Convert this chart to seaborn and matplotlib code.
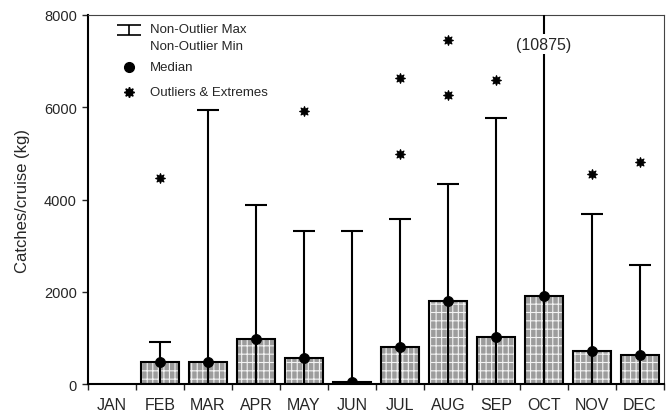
import numpy as np
import pandas as pd
import matplotlib
matplotlib.use("Agg")
import matplotlib.pyplot as plt
from matplotlib.path import Path
import seaborn as sns

# Monthly catch statistics per cruise (kg)
months = ["JAN", "FEB", "MAR", "APR", "MAY", "JUN",
          "JUL", "AUG", "SEP", "OCT", "NOV", "DEC"]
medians = [np.nan, 470, 470, 980, 560, 50, 810, 1800, 1010, 1900, 720, 630]
nonoutlier_max = [np.nan, 920, 5950, 3880, 3320, 3310, 3580, 4330, 5760, 10875, 3680, 2580]
nonoutlier_min = [np.nan, 0, 0, 0, 0, 0, 0, 0, 0, 0, 0, 0]
outlier_month = ["FEB", "MAY", "JUL", "JUL", "AUG", "AUG", "SEP", "NOV", "DEC"]
outlier_value = [4470, 5920, 6630, 4980, 7460, 6270, 6580, 4550, 4820]

ymax = 8000

sns.set_style("ticks")
plt.rcParams["font.family"] = ["Liberation Sans", "DejaVu Sans"]
plt.rcParams["hatch.linewidth"] = 0.8

df = pd.DataFrame({"month": months, "median": medians,
                   "max": nonoutlier_max, "min": nonoutlier_min})
out_df = pd.DataFrame({"month": outlier_month, "value": outlier_value})

fig = plt.figure(figsize=(6.69, 4.14), dpi=100)
ax = fig.add_axes([0.1315, 0.07, 0.861, 0.8914])

# hatched grey bars at the median
hatch = "|||--"
sns.barplot(data=df, x="month", y="median", order=months, color="#9c9c9c",
            edgecolor="white", linewidth=0.5, width=0.8,
            errorbar=None, ax=ax, zorder=1)
for p in ax.patches:
    p.set_hatch(hatch)
    p.set_edgecolor("#f2f2f2")
# black outline on top
sns.barplot(data=df, x="month", y="median", order=months, color="black",
            fill=False, linewidth=1.5, width=0.8, errorbar=None, ax=ax, zorder=2)

# whiskers from non-outlier min to non-outlier max
xpos = np.arange(len(months))
valid = ~df["max"].isna()
ax.vlines(xpos[valid], df["min"][valid], df["max"][valid], color="black",
          linewidth=1.5, zorder=3)
caps = valid & (df["max"] <= ymax)
ax.hlines(df["max"][caps], xpos[caps] - 0.22, xpos[caps] + 0.22,
          color="black", linewidth=1.5, zorder=3)

# off-scale maximum noted as text
for i, m in enumerate(nonoutlier_max):
    if not np.isnan(m) and m > ymax:
        ax.text(i, 7370, f"({m:.0f})", ha="center", va="center", fontsize=11.5,
                bbox=dict(facecolor="white", edgecolor="none", pad=1.5), zorder=4)

# medians
sns.scatterplot(data=df.dropna(), x="month", y="median", color="black", s=52,
                edgecolor="black", ax=ax, zorder=5, legend=False)
# outliers & extremes
sns.scatterplot(data=out_df, x="month", y="value", color="black",
                marker=(8, 1, 0), s=50, edgecolor="black", linewidth=0.8,
                ax=ax, zorder=5, legend=False)

ax.set_xlim(-0.5, len(months) - 0.5)
ax.set_ylim(0, ymax)
ax.set_yticks([0, 2000, 4000, 6000, 8000])
ax.set_xlabel("")
ax.set_ylabel("Catches/cruise (kg)", fontsize=12, labelpad=10)
ax.tick_params(axis="y", labelsize=10.5, length=4, width=1, direction="out", pad=4)
ax.tick_params(axis="x", which="major", labelsize=11.5, length=0, pad=9)
ax.set_xticks(np.arange(-0.5, len(months)), minor=True)
ax.tick_params(axis="x", which="minor", length=4, width=1, direction="out")

for s in ["left", "bottom"]:
    ax.spines[s].set_linewidth(1.5)
    ax.spines[s].set_color("black")
for s in ["top", "right"]:
    ax.spines[s].set_visible(True)
    ax.spines[s].set_linewidth(0.8)
    ax.spines[s].set_color("#444444")

# legend key drawn in axes coordinates
ibeam = Path([(-1, 0.4), (1, 0.4), (0, 0.4), (0, -0.4), (-1, -0.4), (1, -0.4)],
             [Path.MOVETO, Path.LINETO, Path.MOVETO, Path.LINETO,
              Path.MOVETO, Path.LINETO])
kx, tx = 0.0705, 0.1076
ax.plot([kx], [0.958], marker=ibeam, markersize=17, markeredgewidth=1.2,
        color="black", transform=ax.transAxes, clip_on=False)
ax.text(tx, 0.962, "Non-Outlier Max", transform=ax.transAxes,
        fontsize=9.5, va="center")
ax.text(tx, 0.916, "Non-Outlier Min", transform=ax.transAxes,
        fontsize=9.5, va="center")
ax.plot([kx], [0.858], marker="o", markersize=7, color="black",
        transform=ax.transAxes)
ax.text(tx, 0.858, "Median", transform=ax.transAxes, fontsize=9.5, va="center")
ax.plot([kx], [0.792], marker=(8, 1, 0), markersize=7.5, color="black",
        transform=ax.transAxes)
ax.text(tx, 0.792, "Outliers & Extremes", transform=ax.transAxes,
        fontsize=9.5, va="center")

fig.savefig("out.png", dpi=100)
